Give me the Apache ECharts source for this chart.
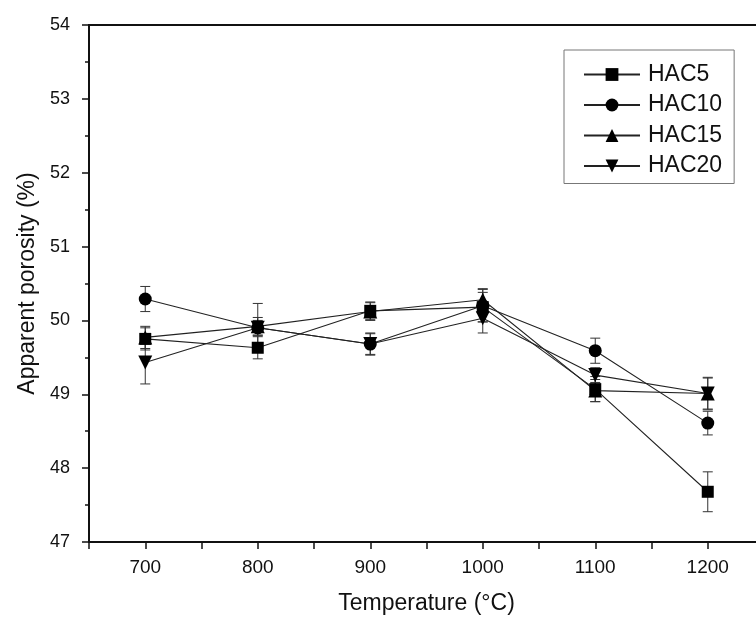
<!DOCTYPE html>
<html>
<head>
<meta charset="utf-8">
<script src="https://cdn.jsdelivr.net/npm/echarts@6/dist/echarts.min.js"></script>
<style>html,body{margin:0;padding:0;background:#fff;}#c{width:756px;height:622px;}</style>
</head>
<body>
<div id="c"></div>
<script>
const temps = [700, 800, 900, 1000, 1100, 1200];
const xTickLabels = ['700', '800', '900', '1000', '1100', '1200'];
const hac5 = [49.75, 49.63, 50.13, 50.18, 49.07, 47.68];
const hac5Err = [0.15, 0.15, 0.12, 0.20, 0.17, 0.27];
const hac10 = [50.29, 49.90, 49.68, 50.20, 49.59, 48.61];
const hac10Err = [0.17, 0.33, 0.14, 0.22, 0.17, 0.16];
const hac15 = [49.77, 49.92, 50.12, 50.28, 49.05, 49.01];
const hac15Err = [0.15, 0.12, 0.12, 0.15, 0.15, 0.21];
const hac20 = [49.43, 49.90, 49.68, 50.03, 49.26, 49.01];
const hac20Err = [0.29, 0.10, 0.15, 0.20, 0.10, 0.22];
const seriesNames = ['HAC5', 'HAC10', 'HAC15', 'HAC20'];

const FONT = 'Arial, "Liberation Sans", sans-serif';
const chart = echarts.init(document.getElementById('c'), null, {renderer: 'canvas'});

const vals = [hac5, hac10, hac15, hac20];
const errs = [hac5Err, hac10Err, hac15Err, hac20Err];
const symbols = ['rect', 'circle', 'triangle', 'path://M0,0 L10,0 L5,9 Z'];
const sizes = [12, 13, 14, 14];

function errRender(params, api) {
  const x = api.value(0), lo = api.value(1), hi = api.value(2);
  const p1 = api.coord([x, hi]);
  const p2 = api.coord([x, lo]);
  const w = 5;
  const st = {stroke: '#333', lineWidth: 1};
  return {type: 'group', children: [
    {type: 'line', shape: {x1: p1[0], y1: p1[1], x2: p2[0], y2: p2[1]}, style: st},
    {type: 'line', shape: {x1: p1[0] - w, y1: p1[1], x2: p1[0] + w, y2: p1[1]}, style: st},
    {type: 'line', shape: {x1: p2[0] - w, y1: p2[1], x2: p2[0] + w, y2: p2[1]}, style: st}
  ]};
}

const series = [];
seriesNames.forEach((n, i) => {
  series.push({
    name: n + ' err', type: 'custom', renderItem: errRender, z: 1,
    data: temps.map((t, j) => [t, vals[i][j] - errs[i][j], vals[i][j] + errs[i][j]]),
    silent: true
  });
});
seriesNames.forEach((n, i) => {
  series.push({
    name: n, type: 'line', z: 3,
    data: temps.map((t, j) => [t, vals[i][j]]),
    symbol: symbols[i], symbolSize: sizes[i],
    itemStyle: {color: '#000'},
    lineStyle: {color: '#222', width: 1.1},
    animation: false
  });
});

chart.setOption({
  animation: false,
  backgroundColor: '#fff',
  grid: {left: 89, width: 675, top: 25, bottom: 80, show: true, borderColor: '#111', borderWidth: 2,
         containLabel: false, outerBoundsMode: 'none'},
  legend: {
    data: seriesNames, orient: 'vertical', left: 564, top: 50,
    itemWidth: 56, itemHeight: 16, itemGap: 7.5, align: 'left',
    padding: [13, 12, 6, 19], borderColor: '#777', borderWidth: 1,
    textStyle: {fontFamily: FONT, fontSize: 23, color: '#111', padding: [0, 0, 0, 3]}
  },
  xAxis: {
    type: 'value', min: 650, max: 1250, interval: 50,
    name: 'Temperature (°C)', nameLocation: 'middle', nameGap: 50,
    nameTextStyle: {fontFamily: FONT, fontSize: 23, color: '#111'},
    axisLine: {show: true, onZero: false, lineStyle: {color: '#111', width: 2}},
    axisTick: {show: true, inside: false, length: 7, lineStyle: {color: '#111', width: 1.5}},
    axisLabel: {
      fontFamily: FONT, fontSize: 19, color: '#111', margin: 16,
      formatter: v => { const k = temps.indexOf(v); return k >= 0 ? xTickLabels[k] : ''; }
    },
    splitLine: {show: false}
  },
  yAxis: {
    type: 'value', min: 47, max: 54, interval: 1,
    name: 'Apparent porosity (%)', nameLocation: 'middle', nameGap: 50,
    nameTextStyle: {fontFamily: FONT, fontSize: 23, color: '#111'},
    axisLine: {show: true, lineStyle: {color: '#111', width: 2}},
    axisTick: {show: true, inside: false, length: 7, lineStyle: {color: '#111', width: 1.5}},
    minorTick: {show: true, splitNumber: 2, length: 4, lineStyle: {color: '#111', width: 1.5}},
    axisLabel: {fontFamily: FONT, fontSize: 18, color: '#111', margin: 19},
    splitLine: {show: false}
  },
  series: series
});
</script>
</body>
</html>
